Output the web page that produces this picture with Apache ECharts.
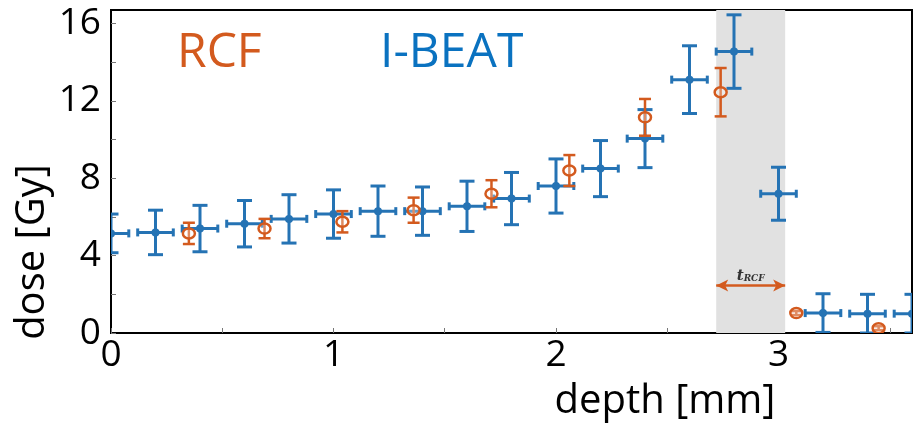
<!DOCTYPE html>
<html><head><meta charset="utf-8">
<script src="https://cdn.jsdelivr.net/npm/echarts@6/dist/echarts.min.js"></script>
<style>html,body{margin:0;padding:0;background:#fff}#c{width:917px;height:425px}</style>
</head><body><div id="c"></div>
<script>
// I-BEAT data: depth [mm], dose [Gy], depth error, dose error
const ibeatDepth = [0, 0.2, 0.4, 0.6, 0.8, 1.0, 1.2, 1.4, 1.6, 1.8, 2.0, 2.2, 2.4, 2.6, 2.8, 3.0, 3.2, 3.4, 3.6];
const ibeatDose  = [5.15, 5.2, 5.4, 5.65, 5.9, 6.15, 6.3, 6.3, 6.55, 6.95, 7.6, 8.5, 10.05, 13.1, 14.55, 7.2, 1.03, 1.0, 1.0];
const ibeatDoseErr = [1.0, 1.15, 1.2, 1.2, 1.25, 1.25, 1.3, 1.25, 1.3, 1.35, 1.4, 1.45, 1.5, 1.75, 1.9, 1.37, 1.0, 1.0, 1.0];
const ibeatDepthErr = [0.08, 0.08, 0.08, 0.08, 0.08, 0.08, 0.08, 0.08, 0.08, 0.08, 0.08, 0.08, 0.08, 0.08, 0.08, 0.08, 0.08, 0.08, 0.08];
// RCF data
const rcfDepth = [0.35, 0.69, 1.04, 1.36, 1.71, 2.06, 2.40, 2.74, 3.08, 3.45];
const rcfDose  = [5.15, 5.4, 5.75, 6.35, 7.2, 8.4, 11.15, 12.45, 1.03, 0.25];
const rcfDoseErr = [0.55, 0.5, 0.55, 0.65, 0.7, 0.8, 0.95, 1.25, 0.1, 0.1];
// RCF thickness band
const bandRange = [2.72, 3.03];
const arrowDose = 2.45;
const yTicks = [0, 4, 8, 12, 16];
const xTicks = [0, 1, 2, 3];

const BLUE = '#2573b4', ORANGE = '#d35a1e';
const FONT = 'Open Sans';

const ibeatData = ibeatDepth.map((d,i)=>[d, ibeatDose[i], ibeatDepthErr[i], ibeatDoseErr[i]]);
const rcfData = rcfDepth.map((d,i)=>[d, rcfDose[i], 0, rcfDoseErr[i]]);

function renderIbeat(params, api){
  const x=api.value(0), y=api.value(1), xe=api.value(2), ye=api.value(3);
  const c=api.coord([x,y]), t=api.coord([x,y+ye]), b=api.coord([x,y-ye]);
  const l=api.coord([x-xe,y]), r=api.coord([x+xe,y]);
  const st={stroke:BLUE, lineWidth:3};
  const cw=7.5, ch=4;
  return {type:'group', children:[
    {type:'line', shape:{x1:t[0],y1:t[1],x2:b[0],y2:b[1]}, style:st},
    {type:'line', shape:{x1:t[0]-cw,y1:t[1],x2:t[0]+cw,y2:t[1]}, style:st},
    {type:'line', shape:{x1:b[0]-cw,y1:b[1],x2:b[0]+cw,y2:b[1]}, style:st},
    {type:'line', shape:{x1:l[0],y1:l[1],x2:r[0],y2:r[1]}, style:st},
    {type:'line', shape:{x1:l[0],y1:l[1]-ch,x2:l[0],y2:l[1]+ch}, style:st},
    {type:'line', shape:{x1:r[0],y1:r[1]-ch,x2:r[0],y2:r[1]+ch}, style:st},
    {type:'circle', shape:{cx:c[0],cy:c[1],r:4}, style:{fill:BLUE}}
  ]};
}
function renderRcf(params, api){
  const x=api.value(0), y=api.value(1), ye=api.value(3);
  const c=api.coord([x,y]), t=api.coord([x,y+ye]), b=api.coord([x,y-ye]);
  const st={stroke:ORANGE, lineWidth:2.5};
  const cw=6;
  return {type:'group', children:[
    {type:'line', shape:{x1:t[0],y1:t[1],x2:b[0],y2:b[1]}, style:st},
    {type:'line', shape:{x1:t[0]-cw,y1:t[1],x2:t[0]+cw,y2:t[1]}, style:st},
    {type:'line', shape:{x1:b[0]-cw,y1:b[1],x2:b[0]+cw,y2:b[1]}, style:st},
    {type:'ellipse', shape:{cx:c[0],cy:c[1],rx:6,ry:5}, style:{fill:'rgba(255,255,255,0.3)', stroke:ORANGE, lineWidth:2.5}}
  ]};
}

const chart = echarts.init(document.getElementById('c'), null, {renderer:'canvas'});
chart.setOption({
  animation:false,
  backgroundColor:'#fff',
  grid:{left:111, right:5, top:10, bottom:92, show:true, borderColor:'#000', borderWidth:2, backgroundColor:'transparent'},
  xAxis:{type:'value', min:0, max:3.6, interval:0.5,
    axisLine:{show:true, lineStyle:{color:'#000', width:2}},
    axisTick:{show:true, inside:true, length:5, lineStyle:{color:'#777', width:1}},
    splitLine:{show:false},
    axisLabel:{fontFamily:FONT, fontSize:37, color:'#000', margin:4, showMaxLabel:false,
      formatter:v=> xTicks.indexOf(v)>=0 ? String(v) : ''}
  },
  yAxis:{type:'value', min:0, max:16.7, interval:2,
    axisLine:{show:true, lineStyle:{color:'#000', width:2}},
    axisTick:{show:true, inside:true, length:5, lineStyle:{color:'#777', width:1}},
    splitLine:{show:false},
    axisLabel:{fontFamily:FONT, fontSize:37, color:'#000', margin:10, showMaxLabel:false,
      formatter:v=> yTicks.indexOf(v)>=0 ? String(v) : ''}
  },
  graphic:[
    {type:'text', left:177, top:29, z:10, style:{text:'RCF', fontFamily:FONT, fontSize:48, fill:ORANGE}},
    {type:'text', left:380, top:29, z:10, style:{text:'I-BEAT', fontFamily:FONT, fontSize:48, fill:'#0a72c0'}},
    {type:'text', x:665, y:402, z:10, style:{text:'depth [mm]', fontFamily:FONT, fontSize:40, fill:'#000', align:'center', verticalAlign:'middle'}},
    {type:'text', x:33, y:252, rotation:Math.PI/2, z:10, style:{text:'dose [Gy]', fontFamily:FONT, fontSize:40, fill:'#000', align:'center', verticalAlign:'middle'}}
  ],
  series:[
    {type:'line', data:[], z:1,
      markArea:{silent:true, itemStyle:{color:'#e1e1e1'}, data:[[{xAxis:bandRange[0]},{xAxis:bandRange[1]}]]},
      markLine:{silent:true, symbol:['arrow','arrow'], symbolSize:[9,12],
        lineStyle:{color:ORANGE, width:2.5, type:'solid'},
        label:{show:true, position:'middle', distance:2, formatter:'{t|t}{s|RCF}',
          rich:{t:{fontFamily:'DejaVu Serif', fontStyle:'italic', fontWeight:'bold', fontSize:15, color:'#333'},
                s:{fontFamily:'DejaVu Serif', fontStyle:'italic', fontWeight:'bold', fontSize:9, color:'#333', verticalAlign:'bottom', padding:[6,0,0,0]}}},
        data:[[{coord:[bandRange[0], arrowDose]},{coord:[bandRange[1], arrowDose]}]]}
    },
    {name:'I-BEAT', type:'custom', renderItem:renderIbeat, data:ibeatData, clip:true, z:3,
      encode:{x:0, y:1}},
    {name:'RCF', type:'custom', renderItem:renderRcf, data:rcfData, clip:true, z:4,
      encode:{x:0, y:1}}
  ]
});
</script></body></html>
